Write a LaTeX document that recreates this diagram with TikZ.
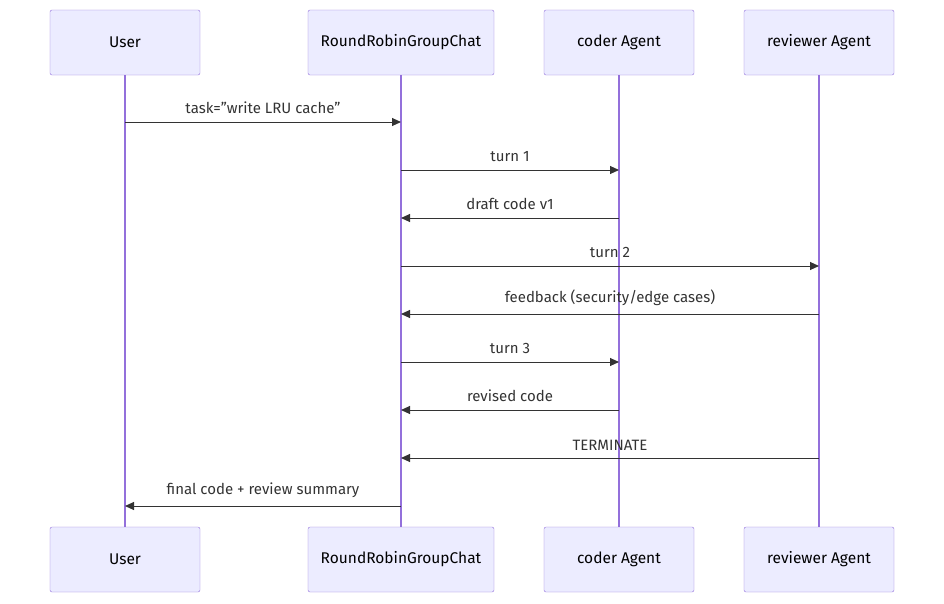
\documentclass[tikz,border=0pt]{standalone}
\usepackage{fontspec}
\setmainfont{Fira Sans}
\usetikzlibrary{arrows.meta,positioning}
\definecolor{actfill}{HTML}{ECECFF}
\definecolor{actline}{HTML}{9370DB}
\definecolor{msgline}{HTML}{333333}
\tikzset{
  actor/.style={draw=actline, fill=actfill, rounded corners=2pt, minimum width=150pt,
    minimum height=65pt, font=\fontsize{15.5}{18}\selectfont, inner sep=0pt},
  life/.style={draw=actline, line width=1.2pt},
  msg/.style={draw=msgline, line width=1pt, -{Triangle[length=9pt,width=8pt]}},
  msglabel/.style={font=\fontsize{15}{18}\selectfont, text=msgline, above=4pt}
}
\begin{document}
\begin{tikzpicture}[x=1pt, y=-1pt]
  \useasboundingbox (0,0) rectangle (944,603);
  % actors, top and bottom
  \node[actor] (userT) at (125,42.5) {User};
  \node[actor, minimum width=186pt] (chatT) at (401,42.5) {RoundRobinGroupChat};
  \node[actor] (coderT) at (619,42.5) {coder Agent};
  \node[actor] (revT) at (819,42.5) {reviewer Agent};
  \node[actor] (userB) at (125,559.5) {User};
  \node[actor, minimum width=186pt] (chatB) at (401,559.5) {RoundRobinGroupChat};
  \node[actor] (coderB) at (619,559.5) {coder Agent};
  \node[actor] (revB) at (819,559.5) {reviewer Agent};
  % lifelines
  \foreach \a in {user,chat,coder,rev}
    \draw[life] (\a T.south) -- (\a B.north);
  % points on lifelines
  \foreach \i/\y in {1/122,2/170,3/218,4/266,5/314,6/362,7/410,8/458,9/506} {
    \coordinate (user\i) at (125,\y);
    \coordinate (chat\i) at (401,\y);
    \coordinate (coder\i) at (619,\y);
    \coordinate (rev\i) at (819,\y);
  }
  % messages
  \draw[msg] (user1) -- node[msglabel] {task="write LRU cache"} (chat1);
  \draw[msg] (chat2) -- node[msglabel] {turn 1} (coder2);
  \draw[msg] (coder3) -- node[msglabel] {draft code v1} (chat3);
  \draw[msg] (chat4) -- node[msglabel] {turn 2} (rev4);
  \draw[msg] (rev5) -- node[msglabel] {feedback (security/edge cases)} (chat5);
  \draw[msg] (chat6) -- node[msglabel] {turn 3} (coder6);
  \draw[msg] (coder7) -- node[msglabel] {revised code} (chat7);
  \draw[msg] (rev8) -- node[msglabel] {TERMINATE} (chat8);
  \draw[msg] (chat9) -- node[msglabel] {final code + review summary} (user9);
\end{tikzpicture}
\end{document}
